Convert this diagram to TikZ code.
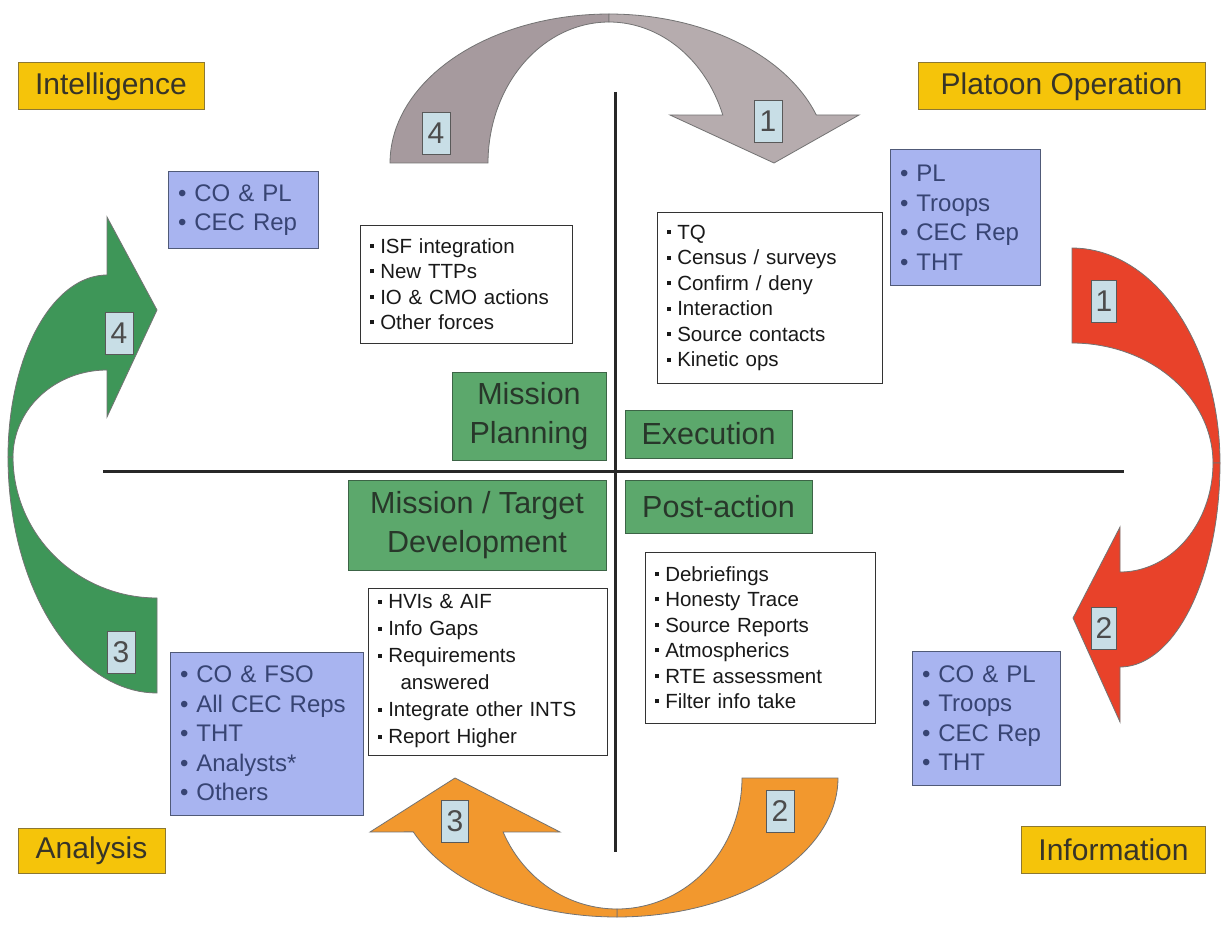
\documentclass[tikz,border=0pt]{standalone}
\usepackage{fontspec}
\setmainfont{Liberation Sans}
\definecolor{yfill}{RGB}{245,196,10}
\definecolor{ybord}{RGB}{140,120,50}
\definecolor{ytext}{RGB}{55,52,40}
\definecolor{bfill}{RGB}{168,180,240}
\definecolor{bbord}{RGB}{80,90,120}
\definecolor{btext}{RGB}{55,68,115}
\definecolor{gfill}{RGB}{92,168,108}
\definecolor{gbord}{RGB}{60,100,70}
\definecolor{gtext}{RGB}{40,55,42}
\definecolor{nfill}{RGB}{200,222,230}
\definecolor{arrgrayA}{RGB}{166,154,158}
\definecolor{arrgrayB}{RGB}{182,172,174}
\definecolor{arrgreen}{RGB}{62,150,88}
\definecolor{arrred}{RGB}{232,66,42}
\definecolor{arrorange}{RGB}{242,152,46}
\definecolor{axiscol}{RGB}{40,40,40}
\newcommand{\sqb}{\raisebox{0.25em}{\rule{0.2em}{0.2em}}\hspace{0.3em}}
\begin{document}
\begin{tikzpicture}[x=1pt,y=-1pt,
  ybox/.style={draw=ybord, fill=yfill, line width=1pt, text=ytext, inner sep=0pt,
    font=\fontsize{30}{36}\selectfont},
  bbox/.style={draw=bbord, fill=bfill, line width=1pt, text=btext, align=left,
    inner xsep=10pt, inner ysep=0pt, font=\fontsize{24}{29.5}\selectfont},
  wbox/.style={draw=black!80, fill=white, line width=1pt, text=black!90, align=left,
    inner xsep=10pt, inner ysep=0pt, font=\fontsize{20.5}{25.5}\selectfont},
  gbox/.style={draw=gbord, fill=gfill, line width=1pt, text=gtext, align=center,
    inner sep=0pt, font=\fontsize{30.5}{39}\selectfont},
  nbox/.style={draw=black!65, fill=nfill, line width=0.8pt, text=black!70, inner sep=0pt,
    minimum width=28pt, minimum height=42pt, font=\fontsize{30}{30}\selectfont},
  arrowshape/.style={draw=black!55, line width=0.8pt},
  axis/.style={draw=axiscol, line width=3pt}
]
\useasboundingbox (0,0) rectangle (1223,928);
\fill[white] (0,0) rectangle (1223,928);

% axes
\coordinate (vtop) at (615,92);
\coordinate (vbot) at (615,852);
\coordinate (hleft) at (103,471);
\coordinate (hright) at (1124,471);
\draw[axis] (vtop) -- (vbot);
\draw[axis] (hleft) -- (hright);

% top gray arrow
\filldraw[arrowshape, fill=arrgrayA]
  plot[domain=180:270, samples=40] ({609+219*cos(\x)},{163+149*sin(\x)})
  -- plot[domain=270:180, samples=40] ({609+121*cos(\x)},{163+141*sin(\x)}) -- cycle;
\filldraw[arrowshape, fill=arrgrayB]
  plot[domain=270:341.2, samples=40] ({609+219*cos(\x)},{163+149*sin(\x)})
  -- (859,115) -- (774,163) -- (670,115)
  -- plot[domain=340.1:270, samples=40] ({609+121*cos(\x)},{163+141*sin(\x)}) -- cycle;

% bottom orange arrow
\filldraw[arrowshape, fill=arrorange]
  plot[domain=0:90, samples=40] ({617+221*cos(\x)},{778+139*sin(\x)})
  -- plot[domain=90:0, samples=40] ({617+125*cos(\x)},{778+131*sin(\x)}) -- cycle;
\filldraw[arrowshape, fill=arrorange]
  plot[domain=90:157.2, samples=40] ({617+221*cos(\x)},{778+139*sin(\x)})
  -- (370,832) -- (455,778) -- (560,832)
  -- plot[domain=155.7:90, samples=40] ({617+125*cos(\x)},{778+131*sin(\x)}) -- cycle;

% left green arrow
\filldraw[arrowshape, fill=arrgreen]
  plot[domain=180:90, samples=40] ({157+149*cos(\x)},{457+236*sin(\x)})
  -- plot[domain=90:180, samples=40] ({157+144*cos(\x)},{457+141*sin(\x)}) -- cycle;
\filldraw[arrowshape, fill=arrgreen]
  plot[domain=180:270, samples=40] ({107+99*cos(\x)},{457+182*sin(\x)})
  -- (107,217) -- (157,310) -- (107,417)
  -- plot[domain=270:180, samples=40] ({107+94*cos(\x)},{457+87*sin(\x)}) -- cycle;

% right red arrow
\filldraw[arrowshape, fill=arrred]
  plot[domain=270:360, samples=40] ({1072+148*cos(\x)},{463+215*sin(\x)})
  -- plot[domain=360:270, samples=40] ({1072+141*cos(\x)},{463+120*sin(\x)}) -- cycle;
\filldraw[arrowshape, fill=arrred]
  plot[domain=0:90, samples=40] ({1120+100*cos(\x)},{463+204*sin(\x)})
  -- (1120,722) -- (1073,618) -- (1120,527)
  -- plot[domain=90:0, samples=40] ({1120+93*cos(\x)},{463+109*sin(\x)}) -- cycle;

% number boxes
\node[nbox] (n4top) at (436,133) {4};
\node[nbox] (n1top) at (768,121) {1};
\node[nbox] (n4left) at (119,333) {4};
\node[nbox] (n3left) at (121,652) {3};
\node[nbox, minimum width=25pt] (n1right) at (1104,301) {1};
\node[nbox, minimum width=25pt] (n2right) at (1104,628) {2};
\node[nbox, minimum width=27pt] (n3bot) at (455,821) {3};
\node[nbox] (n2bot) at (780,811) {2};

% yellow labels
\node[ybox, minimum width=186pt, minimum height=47pt] (intel) at (111,86.5) {Intelligence};
\node[ybox, minimum width=287pt, minimum height=47pt] (platoon) at (1061.5,86.5) {Platoon Operation};
\node[ybox, minimum width=147pt, minimum height=45pt] (analysis) at (91.5,850.5) {Analysis};
\node[ybox, minimum width=184pt, minimum height=47pt] (info) at (1113.5,849.5) {Information};

% blue boxes
\node[bbox, text width=130pt, minimum height=76pt] (bTL) at (243,210)
  {• CO \& PL\\• CEC Rep};
\node[bbox, text width=130pt, minimum height=135pt] (bTR) at (965,217.5)
  {• PL\\• Troops\\• CEC Rep\\• THT};
\node[bbox, text width=173pt, minimum height=163pt] (bBL) at (266.5,733.5)
  {• CO \& FSO\\• All CEC Reps\\• THT\\• Analysts*\\• Others};
\node[bbox, text width=128pt, minimum height=134pt] (bBR) at (986,718)
  {• CO \& PL\\• Troops\\• CEC Rep\\• THT};

% white boxes
\node[wbox, text width=192pt, minimum height=118pt] (wISF) at (466,284)
  {\sqb ISF integration\\\sqb New TTPs\\\sqb IO \& CMO actions\\\sqb Other forces};
\node[wbox, text width=205pt, minimum height=170pt] (wTQ) at (769.5,298)
  {\sqb TQ\\\sqb Census / surveys\\\sqb Confirm / deny\\\sqb Interaction\\\sqb Source contacts\\\sqb Kinetic ops};
\node[wbox, text width=219pt, minimum height=167pt, font=\fontsize{20.5}{27}\selectfont] (wHVI) at (487.5,671.5)
  {\sqb HVIs \& AIF\\\sqb Info Gaps\\\sqb Requirements\\\hspace*{1.1em}answered\\\sqb Integrate other INTS\\\sqb Report Higher};
\node[wbox, text width=210pt, minimum height=171pt] (wDeb) at (760,637.5)
  {\sqb Debriefings\\\sqb Honesty Trace\\\sqb Source Reports\\\sqb Atmospherics\\\sqb RTE assessment\\\sqb Filter info take};

% green boxes
\node[gbox, minimum width=154pt, minimum height=88pt] (gMP) at (529,416) {Mission\\Planning};
\node[gbox, minimum width=167pt, minimum height=48pt] (gEx) at (708.5,434) {Execution};
\node[gbox, minimum width=258pt, minimum height=90pt] (gMT) at (477,525) {Mission / Target\\Development};
\node[gbox, minimum width=187pt, minimum height=53pt] (gPA) at (718.5,506.5) {Post-action};
\end{tikzpicture}
\end{document}
